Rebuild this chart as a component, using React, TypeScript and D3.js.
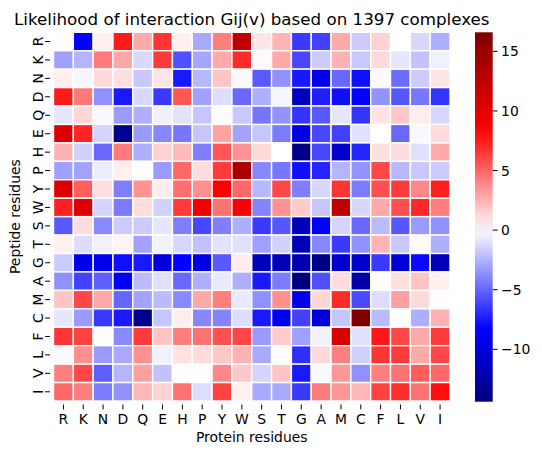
import { useEffect, useRef } from 'react';
import * as d3 from 'd3';

const residues = ['R', 'K', 'N', 'D', 'Q', 'E', 'H', 'P', 'Y', 'W', 'S', 'T', 'G', 'A', 'M', 'C', 'F', 'L', 'V', 'I'];

// rows = peptide residue, columns = protein residue (same order as residues)
const gij: number[][] = [
  [0.1, -8.3, 0.5, 7.5, 2.8, 6.6, 0.5, -2.8, 4.2, 12.4, 0.8, 2.4, -6.4, -6.2, 2.8, -1.7, 1.5, 0.0, -1.3, -2.6],
  [-3.1, -2.4, 4.3, 2.9, -1.3, 6.4, -5.7, -2.9, 2.8, 6.9, 0.2, 2.8, -6.0, -1.7, 2.5, -1.8, 1.2, -0.8, -2.0, -0.5],
  [0.5, -0.3, 1.2, 1.0, -1.8, 0.8, -7.5, -2.3, 1.9, -0.2, -5.4, -3.6, -7.5, -9.1, -4.9, -7.8, -0.2, -4.8, -1.7, 0.8],
  [7.5, 4.4, -3.6, -7.5, -1.3, -6.4, 5.5, -3.1, -1.1, -4.9, -2.6, -0.3, -11.3, -7.3, -7.8, -8.3, -3.5, -5.5, -4.4, -6.6],
  [-0.8, 1.3, -0.2, -3.3, -2.6, -0.5, -0.9, -1.9, 0.1, -1.8, -4.5, -3.5, -6.6, -5.4, -0.8, -6.6, 0.9, 1.8, 0.6, -1.3],
  [10.5, 7.1, -1.4, -13.5, -3.3, -3.9, -4.4, -1.9, 3.0, -3.0, -1.9, -4.3, -9.5, -6.0, -6.2, -1.0, 0.0, -4.9, -0.2, 1.2],
  [2.5, -1.5, -4.9, 4.3, -2.6, 1.5, 2.2, -4.2, 5.5, 3.5, 1.2, 0.0, -13.8, -6.0, -10.7, -7.1, 1.0, 1.1, -1.0, 2.8],
  [-3.1, -3.0, -0.6, 0.5, 0.0, -3.3, 4.9, 1.1, 6.4, 13.8, -3.9, -4.4, -7.8, -7.1, -2.4, -3.5, 6.0, -2.3, -1.8, -1.7],
  [10.5, 5.2, 1.0, -4.2, 3.5, 0.6, 4.7, 3.6, 8.3, 4.9, -2.3, 6.0, -4.2, -1.3, 6.6, -4.3, 5.7, 6.4, 3.9, 7.3],
  [7.3, 10.5, -1.4, -4.3, 1.1, -1.5, 6.4, 9.3, 4.6, 8.5, -4.0, 3.5, 1.7, -1.9, 12.7, -1.3, 2.8, 5.7, 7.0, 4.2],
  [-5.4, 1.1, -3.8, -1.7, -1.7, -0.8, -4.2, -6.0, -4.2, -2.6, -6.4, -5.5, -11.5, -8.3, -1.4, -4.9, -2.2, -5.5, -3.3, -3.6],
  [0.5, -1.1, -0.5, 0.4, -3.0, -0.4, -1.3, -2.0, -0.9, -1.0, -3.1, -1.5, -11.5, -3.9, -6.4, -3.5, 2.4, -1.8, 0.2, -2.6],
  [-1.7, -9.1, -9.1, -7.8, -7.5, -9.9, -8.3, -9.5, -5.4, 0.6, -11.5, -11.6, -12.0, -13.9, -10.7, -10.7, -6.4, -10.2, -8.0, -11.5],
  [-3.6, -6.2, -5.2, -8.6, -2.2, -1.0, -4.9, -2.6, -0.7, -2.6, -7.5, -4.3, -14.4, -5.7, 1.1, -12.3, 0.0, 1.0, 1.9, 0.5],
  [1.9, 6.0, 2.8, -5.0, -3.0, -2.2, -3.8, 2.8, 4.2, -0.7, -3.6, 3.6, -9.1, 1.3, 6.9, -5.9, -1.1, 3.1, 1.2, 0.05],
  [-0.8, -3.3, -6.4, -7.5, -13.5, -1.9, 0.6, -3.9, -4.0, -1.1, -7.5, -9.1, -6.2, -9.9, -1.9, 16.6, -2.2, 0.0, -2.6, 2.5],
  [6.6, 6.2, 0.1, -3.8, 6.4, 1.9, 4.2, 4.6, 5.7, 6.0, -3.3, 1.7, -3.1, -0.4, 10.8, -1.0, 7.6, 6.0, 2.8, 6.4],
  [-0.1, 3.6, -3.3, -2.8, 3.6, -0.5, 0.9, 1.1, 1.8, 2.5, -2.8, 0.1, -6.8, 1.2, 4.2, -1.5, 6.6, 6.4, 2.8, 6.0],
  [4.2, 6.0, -5.2, -2.4, 3.1, -2.0, 0.1, 0.1, 3.9, 1.8, -1.4, 1.9, -7.5, -0.2, 3.4, -3.6, 4.2, 4.6, 5.3, 4.9],
  [4.9, 4.2, -4.3, -3.5, 2.3, 1.5, 4.6, -1.1, 6.2, 0.5, -2.8, -2.8, -6.4, 4.3, 3.4, 2.3, 6.2, 6.8, 4.6, 7.9],
];

const colorbarTicks = [15, 10, 5, 0, -5, -10];

const W = 542;
const H = 455;
const margin = { left: 53.5, top: 32.3, right: 450, bottom: 401 };
const font = 'DejaVu Sans, sans-serif';

export default function App() {
  const svgRef = useRef<SVGSVGElement>(null);

  useEffect(() => {
    if (!svgRef.current) return;
    const svg = d3.select(svgRef.current);
    svg.selectAll('*').remove();

    const flat = gij.flat();
    const vmin = d3.min(flat) as number;
    const vmax = d3.max(flat) as number;
    const vr = Math.max(vmax, -vmin);

    // seaborn centres "seismic" on 0
    const color = d3.scaleLinear<string>()
      .domain([-vr, -vr / 2, 0, vr / 2, vr])
      .range(['#00004d', '#0000ff', '#ffffff', '#ff0000', '#800000'])
      .clamp(true);

    const x = d3.scaleBand<string>().domain(residues).range([margin.left, margin.right]);
    const y = d3.scaleBand<string>().domain(residues).range([margin.top, margin.bottom]);

    // cells
    const g = svg.append('g');
    gij.forEach((row, i) => {
      g.selectAll(null)
        .data(row)
        .enter()
        .append('rect')
        .attr('x', (_, j) => x(residues[j]) as number)
        .attr('y', y(residues[i]) as number)
        .attr('width', x.bandwidth())
        .attr('height', y.bandwidth())
        .attr('fill', d => color(d))
        .attr('stroke', '#ffffff')
        .attr('stroke-width', 1.4);
    });

    // x axis
    const xa = svg.append('g');
    residues.forEach(r => {
      const cx = (x(r) as number) + x.bandwidth() / 2;
      xa.append('line')
        .attr('x1', cx).attr('x2', cx)
        .attr('y1', margin.bottom + 3.5).attr('y2', margin.bottom + 8.4)
        .attr('stroke', '#000').attr('stroke-width', 1);
      xa.append('text')
        .attr('x', cx).attr('y', margin.bottom + 22.5)
        .attr('text-anchor', 'middle')
        .attr('font-family', font).attr('font-size', 13.9)
        .text(r);
    });

    // y axis
    const ya = svg.append('g');
    residues.forEach(r => {
      const cy = (y(r) as number) + y.bandwidth() / 2;
      ya.append('line')
        .attr('x1', margin.left - 8.4).attr('x2', margin.left - 3.5)
        .attr('y1', cy).attr('y2', cy)
        .attr('stroke', '#000').attr('stroke-width', 1);
      ya.append('text')
        .attr('transform', `translate(${margin.left - 11}, ${cy}) rotate(-90)`)
        .attr('text-anchor', 'middle')
        .attr('font-family', font).attr('font-size', 13.9)
        .text(r);
    });

    svg.append('text')
      .attr('x', (margin.left + margin.right) / 2).attr('y', 442)
      .attr('text-anchor', 'middle')
      .attr('font-family', font).attr('font-size', 13.9)
      .text('Protein residues');

    svg.append('text')
      .attr('transform', `translate(20, ${(margin.top + margin.bottom) / 2}) rotate(-90)`)
      .attr('text-anchor', 'middle')
      .attr('font-family', font).attr('font-size', 13.9)
      .text('Peptide residues');

    svg.append('text')
      .attr('x', (margin.left + margin.right) / 2).attr('y', 25)
      .attr('text-anchor', 'middle')
      .attr('font-family', font).attr('font-size', 16.7)
      .text('Likelihood of interaction Gij(v) based on 1397 complexes');

    // colorbar
    const cbX = 475;
    const cbW = 17.7;
    const cbTop = margin.top;
    const cbBottom = 401.7;
    const cb = d3.scaleLinear().domain([vmin, vmax]).range([cbBottom, cbTop]);

    const grad = svg.append('defs').append('linearGradient')
      .attr('id', 'cbgrad')
      .attr('x1', 0).attr('y1', 1).attr('x2', 0).attr('y2', 0);
    d3.range(0, 1.0001, 0.05).forEach(t => {
      grad.append('stop')
        .attr('offset', t)
        .attr('stop-color', color(vmin + t * (vmax - vmin)));
    });

    svg.append('rect')
      .attr('x', cbX).attr('y', cbTop)
      .attr('width', cbW).attr('height', cbBottom - cbTop)
      .attr('fill', 'url(#cbgrad)');

    const cbAxis = svg.append('g');
    colorbarTicks.forEach(t => {
      const ty = cb(t);
      cbAxis.append('line')
        .attr('x1', cbX + cbW).attr('x2', cbX + cbW + 4.9)
        .attr('y1', ty).attr('y2', ty)
        .attr('stroke', '#000').attr('stroke-width', 1);
      cbAxis.append('text')
        .attr('x', cbX + cbW + 8.4).attr('y', ty)
        .attr('dy', '0.36em')
        .attr('font-family', font).attr('font-size', 13.9)
        .text(t < 0 ? `\u2212${-t}` : `${t}`);
    });
  }, []);

  return (
    <svg
      ref={svgRef}
      width={W}
      height={H}
      style={{ position: 'absolute', left: 0, top: 0, background: '#fff' }}
    />
  );
}
